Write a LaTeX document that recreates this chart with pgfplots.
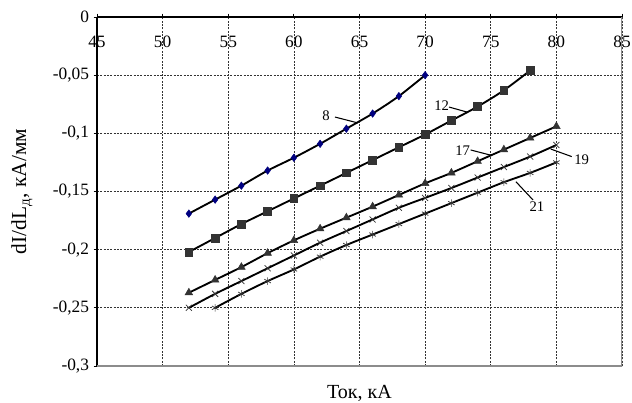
\documentclass[border=0pt]{standalone}
\usepackage{fontspec}
\setmainfont{Liberation Serif}
\usepackage{pgfplots}
\pgfplotsset{compat=1.18}
\usetikzlibrary{calc}
\definecolor{mk}{HTML}{333333}
\definecolor{dia}{HTML}{000080}

\begin{document}
\begin{tikzpicture}
\begin{axis}[
  name=ax,
  scale only axis,
  width=393.75pt, height=261.75pt,
  xmin=45, xmax=85, ymin=-0.3, ymax=0,
  xtick={45,50,...,85},
  ytick={-0.3,-0.25,-0.2,-0.15,-0.1,-0.05,0},
  yticklabels={{-0,3},{-0,25},{-0,2},{-0,15},{-0,1},{-0,05},{0}},
  axis x line*=top, axis y line*=left,
  axis line style={black, line width=0.8pt},
  tick align=outside, major tick length=2.5pt,
  tick style={black, line width=0.6pt},
  /pgf/number format/assume math mode=true,
  tick label style={font=\fontsize{13}{15}\selectfont},
  xticklabel style={anchor=base, yshift=-25.5pt},
  grid=major,
  major grid style={black!80, line width=0.5pt, dash pattern=on 1.5pt off 1pt},
  xlabel={Ток, кА},
  xlabel style={at={(rel axis cs:0.5,-0.0917)}, anchor=base, font=\fontsize{15}{17}\selectfont},
  ylabel={dI/dL\textsubscript{д}, кА/мм},
  ylabel style={at={(rel axis cs:-0.143,0.5)}, anchor=center, font=\fontsize{16}{18}\selectfont},
  every axis plot/.append style={black, line width=1.4pt, smooth},
]
\draw[black!45, line width=0.8pt] (rel axis cs:0,0) -- (rel axis cs:1,0) -- (rel axis cs:1,1);

\addplot[mark=diamond*, mark size=2.8pt, mark options={solid, fill=dia, draw=dia, line width=0.4pt}] coordinates {
(52,-0.169)(54,-0.157)(56,-0.145)(58,-0.132)(60,-0.121)(62,-0.109)(64,-0.096)(66,-0.083)(68,-0.068)(70,-0.050)};

\addplot[mark=square*, mark size=2.9pt, mark options={solid, fill=mk, draw=mk, line width=0.4pt}] coordinates {
(52,-0.202)(54,-0.190)(56,-0.178)(58,-0.167)(60,-0.156)(62,-0.145)(64,-0.134)(66,-0.123)(68,-0.112)(70,-0.101)(72,-0.089)(74,-0.077)(76,-0.063)(78,-0.046)};

\addplot[mark=triangle*, mark size=3.3pt, mark options={solid, fill=mk, draw=mk, line width=0.4pt}] coordinates {
(52,-0.237)(54,-0.226)(56,-0.215)(58,-0.203)(60,-0.192)(62,-0.182)(64,-0.1725)(66,-0.163)(68,-0.153)(70,-0.143)(72,-0.134)(74,-0.124)(76,-0.114)(78,-0.104)(80,-0.094)};

\addplot[mark=x, mark size=3.2pt, mark options={solid, draw=mk, line width=0.55pt}] coordinates {
(52,-0.250)(54,-0.238)(56,-0.227)(58,-0.216)(60,-0.205)(62,-0.194)(64,-0.184)(66,-0.174)(68,-0.164)(70,-0.1555)(72,-0.147)(74,-0.138)(76,-0.129)(78,-0.120)(80,-0.110)};

\addplot[mark=asterisk, mark size=2.8pt, mark options={solid, draw=mk, line width=0.55pt}] coordinates {
(54,-0.250)(56,-0.238)(58,-0.227)(60,-0.217)(62,-0.206)(64,-0.196)(66,-0.187)(68,-0.178)(70,-0.169)(72,-0.160)(74,-0.151)(76,-0.142)(78,-0.134)(80,-0.125)};

% curve labels
\begin{scope}[font=\fontsize{11}{13}\selectfont]
\node at (axis cs:62.45,-0.0851) {8};
\draw[line width=0.8pt] (axis cs:63.13,-0.086) -- (axis cs:64.89,-0.0911);
\node at (axis cs:71.26,-0.0765) {12};
\draw[line width=0.8pt] (axis cs:71.82,-0.0774) -- (axis cs:73.19,-0.0817);
\node at (axis cs:72.86,-0.115) {17};
\draw[line width=0.8pt] (axis cs:73.47,-0.1143) -- (axis cs:74.94,-0.1186);
\node at (axis cs:81.93,-0.1223) {19};
\draw[line width=0.8pt] (axis cs:81.17,-0.120) -- (axis cs:79.57,-0.1135);
\node at (axis cs:78.52,-0.1633) {21};
\draw[line width=0.8pt] (axis cs:76.92,-0.1416) -- (axis cs:78.22,-0.1573);
\end{scope}
\end{axis}
\pgfresetboundingbox
\path ($(ax.south west)+(-72.75pt,-27.75pt)$) rectangle ($(ax.north east)+(7.5pt,12.75pt)$);
\end{tikzpicture}
\end{document}
